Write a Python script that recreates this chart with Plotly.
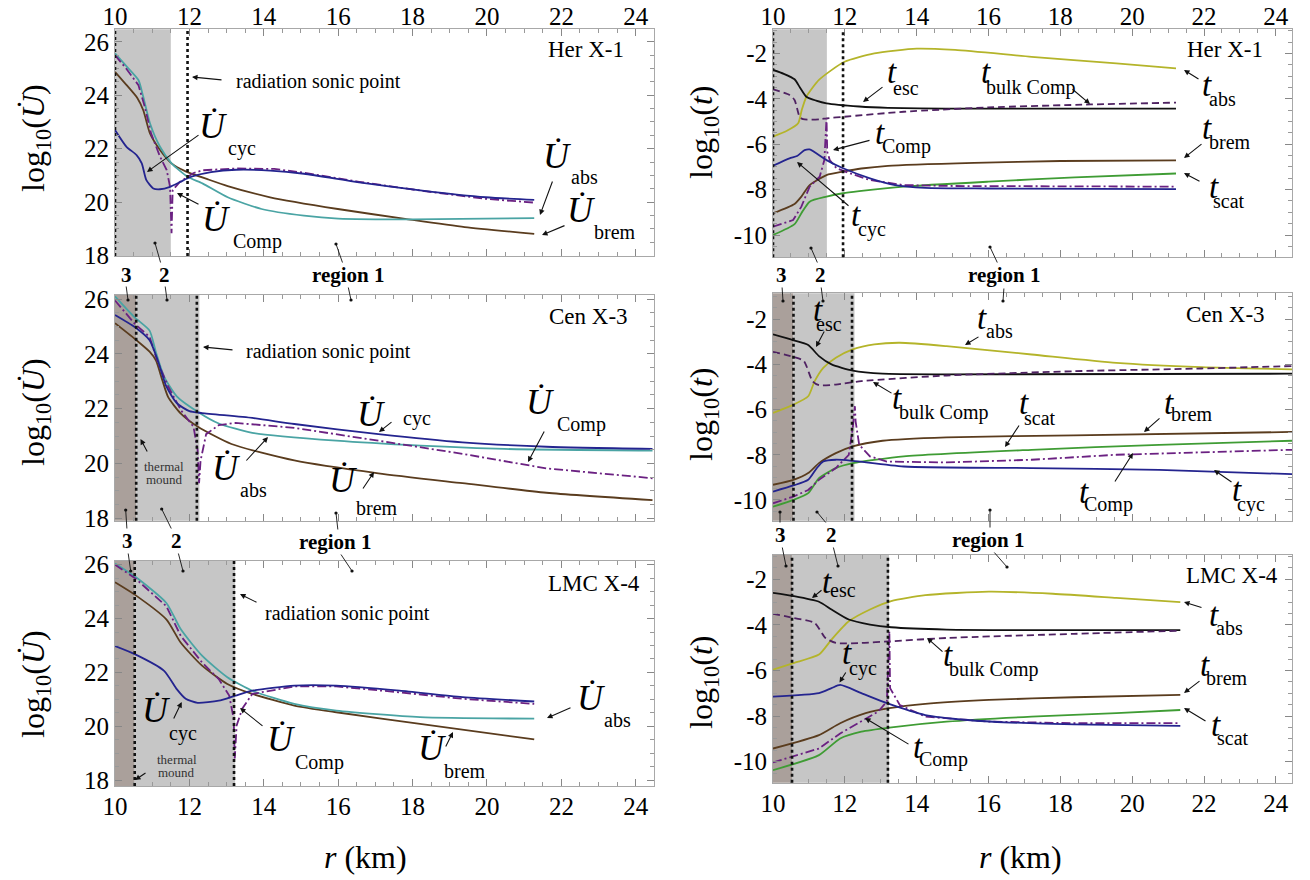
import plotly.graph_objects as go

# ---------------- DATA ----------------
# Her X-1, energy rates log10(U dot) vs r (km)
HER_U_BREM_R = [10, 10.3, 10.6, 10.76, 10.94, 11.21, 11.52, 11.9, 12.5, 13.03, 14.17, 15.99, 17.8, 19.4, 21.27]
HER_U_BREM = [24.88, 24.4, 23.9, 23.44, 22.57, 21.95, 21.45, 21.15, 20.85, 20.6, 20.18, 19.74, 19.37, 19.06, 18.81]
HER_U_ABS_R = [10, 10.3, 10.63, 10.76, 10.94, 11.21, 11.52, 11.95, 12.35, 13.03, 13.94, 15.08, 16, 18, 21.27]
HER_U_ABS = [25.57, 25.1, 24.57, 23.94, 22.95, 22.07, 21.45, 20.95, 20.7, 20.18, 19.74, 19.49, 19.38, 19.35, 19.4]
HER_U_CYC_R = [10, 10.31, 10.58, 10.72, 10.84, 11.03, 11.21, 11.48, 11.75, 12.01, 12.58, 13.26, 14.17, 15.08, 16.56, 18.26, 19.97, 21.27]
HER_U_CYC = [22.7, 22.07, 21.76, 21.45, 20.83, 20.51, 20.48, 20.57, 20.75, 20.93, 21.12, 21.21, 21.18, 21.06, 20.74, 20.43, 20.18, 20.08]
HER_U_COMP_R = [10, 10.3, 10.63, 10.8, 10.97, 11.21, 11.39, 11.48, 11.52, 11.55, 11.75, 12.1, 12.35, 13.26, 14.28, 15.08, 16.56, 18.26, 19.97, 21.27]
HER_U_COMP = [25.5, 25.0, 24.38, 23.57, 22.57, 21.7, 21.2, 20.57, 18.83, 20.45, 20.76, 21.08, 21.19, 21.26, 21.24, 21.1, 20.76, 20.42, 20.12, 19.98]

# Her X-1, timescales log10(t)
HER_T_ABS_R = [10, 10.4, 10.7, 10.8, 10.93, 11.28, 11.99, 12.82, 14.0, 15.07, 17.2, 19.56, 21.22]
HER_T_ABS = [-5.67, -5.4, -5.08, -4.5, -3.91, -3.17, -2.37, -2.0, -1.79, -1.85, -2.15, -2.44, -2.66]
HER_T_ESC_R = [10, 10.3, 10.6, 10.75, 10.93, 11.2, 11.49, 12.4, 13.2, 14.8, 21.22]
HER_T_ESC = [-2.73, -2.9, -3.14, -3.5, -3.91, -4.08, -4.2, -4.34, -4.4, -4.43, -4.43]
HER_T_BULK_R = [10, 10.46, 10.6, 10.74, 10.84, 11.3, 11.49, 11.99, 13.64, 16.0, 18.85, 21.22]
HER_T_BULK = [-3.58, -3.83, -4.05, -4.79, -4.9, -4.9, -4.86, -4.79, -4.57, -4.38, -4.25, -4.17]
HER_T_CYC_R = [10, 10.46, 10.67, 10.88, 11.02, 11.49, 11.95, 12.7, 13.4, 14.24, 16.0, 21.22]
HER_T_CYC = [-6.95, -6.62, -6.52, -6.26, -6.23, -6.7, -7.06, -7.5, -7.8, -7.92, -7.95, -7.98]
HER_T_COMP_R = [10, 10.56, 10.79, 11.02, 11.3, 11.43, 11.49, 11.51, 11.58, 11.77, 12.14, 12.7, 13.64, 15.0, 21.22]
HER_T_COMP = [-9.63, -9.34, -8.75, -7.87, -7.43, -6.7, -4.86, -6.33, -6.7, -7.06, -7.28, -7.58, -7.8, -7.84, -7.87]
HER_T_BREM_R = [10, 10.6, 10.79, 11.02, 11.49, 11.95, 12.46, 13.2, 15.6, 18.0, 21.22]
HER_T_BREM = [-9.04, -8.63, -8.31, -7.8, -7.36, -7.21, -7.07, -6.95, -6.82, -6.74, -6.71]
HER_T_SCAT_R = [10, 10.6, 10.79, 11.02, 11.49, 11.95, 12.4, 13.64, 16.0, 18.4, 21.22]
HER_T_SCAT = [-10.0, -9.52, -9.04, -8.53, -8.31, -8.16, -8.07, -7.87, -7.65, -7.46, -7.29]

# Cen X-3, energy rates
CEN_U_ABS_R = [10, 10.53, 10.93, 11.1, 11.32, 11.66, 12.23, 12.79, 13.69, 15.95, 18.21, 20.47, 24.45]
CEN_U_ABS = [26.1, 25.33, 24.85, 24.06, 23.17, 22.45, 21.88, 21.46, 21.12, 20.83, 20.65, 20.53, 20.47]
CEN_U_CYC_R = [10, 10.53, 10.93, 11.15, 11.38, 11.66, 12.0, 12.34, 13.69, 14.82, 17.08, 19.34, 21.6, 24.45]
CEN_U_CYC = [25.42, 24.98, 24.5, 23.76, 22.81, 22.2, 21.91, 21.84, 21.66, 21.44, 21.07, 20.77, 20.61, 20.53]
CEN_U_BREM_R = [10, 10.53, 10.93, 11.1, 11.27, 11.43, 11.77, 12.23, 13.13, 14.82, 17.08, 19.34, 21.6, 24.45]
CEN_U_BREM = [25.12, 24.55, 24.08, 23.76, 23.05, 22.42, 21.82, 21.34, 20.71, 20.11, 19.64, 19.28, 18.93, 18.66]
CEN_U_COMP_R = [10, 10.53, 10.93, 11.15, 11.43, 11.77, 12.11, 12.22, 12.26, 12.3, 12.45, 12.79, 13.24, 14.82, 17.08, 19.34, 21.6, 24.45]
CEN_U_COMP = [25.95, 25.1, 24.62, 23.7, 22.81, 21.95, 21.34, 20.5, 19.28, 20.1, 21.07, 21.4, 21.48, 21.3, 20.83, 20.35, 19.82, 19.46]

# Cen X-3, timescales
CEN_T_ABS_R = [10, 10.57, 10.98, 11.16, 11.4, 11.75, 12.22, 12.82, 13.53, 14.83, 17.2, 19.56, 21.93, 24.45]
CEN_T_ABS = [-6.15, -5.78, -5.41, -4.74, -4.15, -3.7, -3.33, -3.11, -3.04, -3.19, -3.56, -3.93, -4.12, -4.22]
CEN_T_ESC_R = [10, 10.57, 10.98, 11.28, 11.63, 12.22, 13.05, 14.83, 24.45]
CEN_T_ESC = [-2.67, -2.93, -3.14, -3.63, -4.0, -4.27, -4.41, -4.44, -4.41]
CEN_T_BULK_R = [10, 10.57, 10.86, 11.1, 11.28, 11.75, 12.46, 14.83, 18.38, 21.93, 24.45]
CEN_T_BULK = [-3.44, -3.67, -3.85, -4.74, -4.92, -4.89, -4.74, -4.49, -4.3, -4.18, -4.07]
CEN_T_BREM_R = [10, 10.57, 10.98, 11.28, 11.75, 12.22, 13.05, 14.83, 18.38, 24.45]
CEN_T_BREM = [-9.33, -9.11, -8.81, -8.37, -7.93, -7.63, -7.38, -7.23, -7.14, -6.99]
CEN_T_CYC_R = [10, 10.57, 10.98, 11.22, 11.4, 11.75, 12.22, 13.64, 17.2, 20.75, 24.45]
CEN_T_CYC = [-9.63, -9.36, -9.11, -8.59, -8.3, -8.22, -8.27, -8.52, -8.59, -8.67, -8.86]
CEN_T_SCAT_R = [10, 10.57, 10.98, 11.28, 11.75, 12.22, 13.64, 17.2, 20.75, 24.45]
CEN_T_SCAT = [-10.3, -10.0, -9.7, -9.04, -8.59, -8.37, -8.07, -7.78, -7.56, -7.38]
CEN_T_COMP_R = [10, 10.57, 10.98, 11.28, 11.75, 12.11, 12.22, 12.28, 12.3, 12.4, 12.7, 13.17, 14.83, 17.2, 19.56, 21.93, 24.45]
CEN_T_COMP = [-10.15, -9.85, -9.56, -9.11, -8.59, -8.0, -6.81, -5.85, -6.52, -7.56, -8.07, -8.3, -8.34, -8.22, -8.0, -7.88, -7.78]

# LMC X-4, energy rates
LMC_U_ABS_R = [10, 10.53, 11.38, 11.77, 12.34, 13.02, 13.69, 14.82, 15.95, 18.2, 21.27]
LMC_U_ABS = [26.05, 25.57, 24.58, 23.6, 22.62, 21.82, 21.32, 20.83, 20.58, 20.34, 20.28]
LMC_U_BREM_R = [10, 10.53, 11.38, 11.77, 12.34, 13.02, 13.69, 14.82, 15.95, 18.2, 21.27]
LMC_U_BREM = [25.35, 24.89, 23.97, 23.1, 22.25, 21.57, 21.2, 20.77, 20.52, 20.09, 19.51]
LMC_U_CYC_R = [10, 10.53, 11.32, 11.66, 11.9, 12.22, 12.79, 13.24, 13.69, 14.82, 15.95, 17.65, 19.34, 21.27]
LMC_U_CYC = [22.98, 22.68, 22.06, 21.38, 21.02, 20.87, 20.95, 21.14, 21.32, 21.51, 21.51, 21.32, 21.08, 20.92]
LMC_U_COMP_R = [10, 10.53, 11.38, 11.77, 12.34, 12.79, 13.07, 13.19, 13.22, 13.27, 13.42, 13.69, 14.82, 15.95, 17.65, 19.34, 21.27]
LMC_U_COMP = [26.0, 25.51, 24.46, 23.35, 22.37, 21.75, 21.14, 20.28, 18.8, 20.03, 20.65, 21.2, 21.48, 21.48, 21.26, 21.02, 20.83]

# LMC X-4, timescales
LMC_T_ABS_R = [10, 10.57, 11.28, 11.63, 12.11, 12.7, 13.29, 14.24, 16.01, 17.79, 19.56, 21.34]
LMC_T_ABS = [-5.96, -5.67, -5.3, -4.64, -3.84, -3.32, -2.95, -2.69, -2.54, -2.63, -2.81, -3.0]
LMC_T_ESC_R = [10, 10.57, 11.28, 11.63, 12.11, 12.7, 13.29, 14.83, 21.34]
LMC_T_ESC = [-2.59, -2.73, -2.98, -3.32, -3.76, -3.98, -4.1, -4.2, -4.23]
LMC_T_BULK_R = [10, 10.57, 11.16, 11.46, 11.75, 12.46, 13.24, 14.83, 18.38, 21.34]
LMC_T_BULK = [-3.51, -3.69, -3.91, -4.57, -4.79, -4.79, -4.72, -4.57, -4.39, -4.25]
LMC_T_CYC_R = [10, 11.28, 11.63, 11.87, 12.46, 13.17, 14.24, 15.42, 16.6, 18.38, 21.34]
LMC_T_CYC = [-7.14, -6.99, -6.77, -6.63, -6.99, -7.43, -7.95, -8.17, -8.28, -8.36, -8.43]
LMC_T_BREM_R = [10, 11.28, 11.87, 12.58, 13.24, 14.24, 16.01, 18.38, 21.34]
LMC_T_BREM = [-9.42, -8.83, -8.31, -7.87, -7.65, -7.46, -7.29, -7.17, -7.07]
LMC_T_SCAT_R = [10, 11.28, 11.87, 12.46, 13.24, 14.83, 17.2, 19.56, 21.34]
LMC_T_SCAT = [-10.37, -9.71, -8.98, -8.68, -8.5, -8.24, -8.02, -7.87, -7.73]
LMC_T_COMP_R = [10, 11.28, 11.87, 12.46, 12.93, 13.17, 13.24, 13.26, 13.53, 14.24, 16.01, 18.38, 21.34]
LMC_T_COMP = [-10.03, -9.42, -8.76, -8.24, -7.8, -7.36, -4.28, -6.77, -7.51, -8.02, -8.24, -8.31, -8.31]

# region boundaries (km)
HER_REGIONS = dict(dark=None, gray=(10.0, 11.5), lines=[10.0, 11.95])
CEN_REGIONS = dict(dark=(10.0, 10.57), gray=(10.57, 12.27), lines=[10.57, 12.2])
LMC_REGIONS = dict(dark=(10.0, 10.53), gray=(10.53, 13.23), lines=[10.53, 13.2])

Y_TICKS_U = [18, 20, 22, 24, 26]
Y_LABELS_U = ['18', '20', '22', '24', '26']
Y_TICKS_T = [-10, -8, -6, -4, -2]
Y_LABELS_T = ['-10', '-8', '-6', '-4', '-2']
X_TICKS = [10, 12, 14, 16, 18, 20, 22, 24]

# ---------------- STYLE ----------------
W, H = 1310, 880
SERIF = "Liberation Serif, DejaVu Serif, serif"
NAVY = '#24248f'
TEAL = '#4aa4a4'
BROWN = '#5a3c1e'
PURPLE = '#6b2182'
OLIVE = '#b4b42a'
GREEN = '#3f9c34'
BLACK = '#111111'
BULK = '#4f2262'
GRAY = '#c6c6c6'
DARK = '#aaa09b'
FRAME = '#a8a8a8'

# panel geometry in figure pixels: (x0, x1, ytop, ybottom)
GEOM = {
    1: (115, 654, 29.3, 256.0),
    2: (773, 1292, 29.3, 257.3),
    3: (115, 654, 295.0, 520.7),
    4: (773, 1292, 293.3, 520.7),
    5: (115, 654, 560.7, 786.0),
    6: (773, 1292, 555.0, 782.7),
}
YRANGE = {1: [17.98, 26.47], 2: [-10.98, -0.94], 3: [17.91, 26.15],
          4: [-10.92, -0.85], 5: [17.78, 26.15], 6: [-10.92, -0.93]}
XRANGE_L = [10, 24.49]
XRANGE_R = [10, 24.45]

fig = go.Figure()


def ax_names(p):
    s = '' if p == 1 else str(p)
    return 'x' + s, 'y' + s


def line(p, r, v, color, dash='solid', width=1.8, shape='spline'):
    xa, ya = ax_names(p)
    fig.add_trace(go.Scatter(x=r, y=v, mode='lines', xaxis=xa, yaxis=ya,
                             line=dict(color=color, width=width, dash=dash, shape=shape, smoothing=0.6),
                             showlegend=False, hoverinfo='skip'))


DASHDOT = '9px,3px,2px,3px'
DASHED = '7px,4px'

# Her X-1
line(1, HER_U_BREM_R, HER_U_BREM, BROWN)
line(1, HER_U_ABS_R, HER_U_ABS, TEAL)
line(1, HER_U_COMP_R, HER_U_COMP, PURPLE, DASHDOT, 1.8, 'linear')
line(1, HER_U_CYC_R, HER_U_CYC, NAVY)
line(2, HER_T_ABS_R, HER_T_ABS, OLIVE)
line(2, HER_T_ESC_R, HER_T_ESC, BLACK)
line(2, HER_T_BULK_R, HER_T_BULK, BULK, DASHED)
line(2, HER_T_BREM_R, HER_T_BREM, BROWN)
line(2, HER_T_SCAT_R, HER_T_SCAT, GREEN)
line(2, HER_T_COMP_R, HER_T_COMP, PURPLE, DASHDOT, 1.8, 'linear')
line(2, HER_T_CYC_R, HER_T_CYC, NAVY)
# Cen X-3
line(3, CEN_U_BREM_R, CEN_U_BREM, BROWN)
line(3, CEN_U_ABS_R, CEN_U_ABS, TEAL)
line(3, CEN_U_COMP_R, CEN_U_COMP, PURPLE, DASHDOT, 1.8, 'linear')
line(3, CEN_U_CYC_R, CEN_U_CYC, NAVY)
line(4, CEN_T_ABS_R, CEN_T_ABS, OLIVE)
line(4, CEN_T_ESC_R, CEN_T_ESC, BLACK)
line(4, CEN_T_BULK_R, CEN_T_BULK, BULK, DASHED)
line(4, CEN_T_BREM_R, CEN_T_BREM, BROWN)
line(4, CEN_T_SCAT_R, CEN_T_SCAT, GREEN)
line(4, CEN_T_COMP_R, CEN_T_COMP, PURPLE, DASHDOT, 1.8, 'linear')
line(4, CEN_T_CYC_R, CEN_T_CYC, NAVY)
# LMC X-4
line(5, LMC_U_BREM_R, LMC_U_BREM, BROWN)
line(5, LMC_U_ABS_R, LMC_U_ABS, TEAL)
line(5, LMC_U_COMP_R, LMC_U_COMP, PURPLE, DASHDOT, 1.8, 'linear')
line(5, LMC_U_CYC_R, LMC_U_CYC, NAVY)
line(6, LMC_T_ABS_R, LMC_T_ABS, OLIVE)
line(6, LMC_T_ESC_R, LMC_T_ESC, BLACK)
line(6, LMC_T_BULK_R, LMC_T_BULK, BULK, DASHED)
line(6, LMC_T_BREM_R, LMC_T_BREM, BROWN)
line(6, LMC_T_SCAT_R, LMC_T_SCAT, GREEN)
line(6, LMC_T_COMP_R, LMC_T_COMP, PURPLE, DASHDOT, 1.8, 'linear')
line(6, LMC_T_CYC_R, LMC_T_CYC, NAVY)

# ---------------- AXES ----------------
layout_axes = {}
for p, (x0, x1, yt, yb) in GEOM.items():
    xa, ya = ax_names(p)
    xkey = 'xaxis' + ('' if p == 1 else str(p))
    ykey = 'yaxis' + ('' if p == 1 else str(p))
    row = (p - 1) // 2
    left = (p % 2 == 1)
    side = 'top' if row == 0 else 'bottom'
    showx = row != 1
    layout_axes[xkey] = dict(
        domain=[x0 / W, x1 / W], range=XRANGE_L if left else XRANGE_R, anchor=ya,
        side=side, showticklabels=showx, tickvals=X_TICKS, ticks='inside', ticklen=7,
        tickcolor='#888', mirror='ticks', showline=True, linecolor=FRAME, linewidth=1,
        showgrid=False, zeroline=False, automargin=False,
        ticklabelstandoff=-7 if row == 0 else -2,
        minor=dict(dtick=0.5, tick0=10, ticks='inside', ticklen=4, tickcolor='#999'),
        tickfont=dict(family=SERIF, size=25, color='black'))
    layout_axes[ykey] = dict(
        domain=[1 - yb / H, 1 - yt / H], range=YRANGE[p], anchor=xa,
        tickvals=Y_TICKS_U if left else Y_TICKS_T,
        ticktext=Y_LABELS_U if left else Y_LABELS_T, ticks='inside', ticklen=7,
        tickcolor='#888', mirror='ticks', showline=True, linecolor=FRAME, linewidth=1,
        showgrid=False, zeroline=False, automargin=False,
        minor=dict(dtick=0.5, ticks='inside', ticklen=4, tickcolor='#999'),
        tickfont=dict(family=SERIF, size=25, color='black'))

# ---------------- SHAPES ----------------
shapes = []
for p, reg in [(1, HER_REGIONS), (2, HER_REGIONS), (3, CEN_REGIONS), (4, CEN_REGIONS),
               (5, LMC_REGIONS), (6, LMC_REGIONS)]:
    xa, ya = ax_names(p)
    if reg['dark']:
        shapes.append(dict(type='rect', xref=xa, yref=ya + ' domain', x0=reg['dark'][0], x1=reg['dark'][1],
                           y0=0, y1=1, fillcolor=DARK, line=dict(width=0), layer='below'))
    shapes.append(dict(type='rect', xref=xa, yref=ya + ' domain', x0=reg['gray'][0], x1=reg['gray'][1],
                       y0=0, y1=1, fillcolor=GRAY, line=dict(width=0), layer='below'))
    for lx in reg['lines']:
        shapes.append(dict(type='line', xref=xa, yref=ya + ' domain', x0=lx, x1=lx, y0=0, y1=1,
                           line=dict(color='#111', width=2.6, dash='3px,3px'), layer='above'))

# ---------------- ANNOTATIONS ----------------
ann = []


def P(px, py):
    return px / W, 1 - py / H


def text(px, py, t, size, color='black', angle=0):
    x, y = P(px, py)
    ann.append(dict(x=x, y=y, xref='paper', yref='paper', text=t, showarrow=False,
                    textangle=angle, xanchor='center', yanchor='middle',
                    font=dict(family=SERIF, size=size, color=color)))


def arrow(tx, ty, hx, hy, head=2, size=1.0, width=1.1):
    x, y = P(hx, hy)
    ann.append(dict(x=x, y=y, xref='paper', yref='paper', text='', showarrow=True,
                    ax=tx - hx, ay=ty - hy, axref='pixel', ayref='pixel',
                    arrowhead=head, arrowsize=size, arrowwidth=width, arrowcolor='#111'))


UDOT = '<i>U\u0307</i>'


def ulabel(ux, uy, sub, sx, sy):
    text(ux, uy, UDOT, 36)
    text(sx, sy, sub, 20)


def tlabel(ux, uy, sub, sx, sy):
    text(ux, uy, '<i>t</i>', 33)
    text(sx, sy, sub, 20)


# Her X-1 left
text(586, 50, 'Her X-1', 23)
text(318, 81, 'radiation sonic point', 20)
arrow(223, 80, 192, 77)
ulabel(213, 126, 'cyc', 242, 148)
arrow(200, 134, 147, 172)
ulabel(216, 219, 'Comp', 257, 241)
arrow(200, 205, 177, 193)
ulabel(557, 156, 'abs', 584, 177)
arrow(553, 180, 540, 215)
ulabel(581, 210, 'brem', 615, 232)
arrow(566, 225, 542, 235)

# Cen X-3 left
text(588, 316, 'Cen X-3', 23)
text(328, 351, 'radiation sonic point', 20)
arrow(234, 350, 203, 347)
text(164, 466, 'thermal', 13, '#333')
text(164, 480, 'mound', 13, '#333')
arrow(148, 453, 140.5, 439)
ulabel(371, 414, 'cyc', 417, 418)
arrow(393, 421, 379, 432)
ulabel(540, 402, 'Comp', 581, 424)
arrow(545, 430, 528, 462)
ulabel(226, 468, 'abs', 253, 490)
arrow(245, 462, 268, 437)
ulabel(343, 480, 'brem', 377, 508)
arrow(362, 490, 374, 472)

# LMC X-4 left
text(594, 583, 'LMC X-4', 23)
text(347, 613, 'radiation sonic point', 20)
arrow(258, 603, 240, 594)
text(177, 759, 'thermal', 13, '#333')
text(177, 772, 'mound', 13, '#333')
arrow(147, 772, 135, 780)
ulabel(156, 710, 'cyc', 183, 733)
arrow(173, 720, 181.7, 702)
ulabel(281, 739, 'Comp', 319, 762)
arrow(264, 727, 240, 708)
ulabel(591, 698, 'abs', 617, 720)
arrow(572, 707, 547, 718)
ulabel(432, 748, 'brem', 465, 771)
arrow(445, 748, 453, 732)

# Her X-1 right
text(1225, 50, 'Her X-1', 23)
tlabel(892, 72, 'esc', 906, 88)
arrow(884, 86, 863, 102)
tlabel(986, 72, 'bulk Comp', 1030, 87)
arrow(1071, 88, 1090, 104)
tlabel(1207, 85, 'abs', 1222, 99)
arrow(1200, 80, 1184, 70)
tlabel(880, 133, 'Comp', 906, 147)
arrow(871, 140, 833, 150)
tlabel(856, 215, 'cyc', 872, 229)
arrow(850, 207, 797, 162)
tlabel(1207, 128, 'brem', 1230, 142)
arrow(1203, 143, 1184, 158)
tlabel(1214, 187, 'scat', 1229, 201)
arrow(1201, 182, 1184, 173)

# Cen X-3 right
text(1225, 315, 'Cen X-3', 23)
tlabel(818, 310, 'esc', 829, 324)
arrow(825, 330, 816, 347)
tlabel(982, 318, 'abs', 999, 331)
arrow(980, 336, 965, 345)
tlabel(897, 398, 'bulk Comp', 943, 413)
arrow(893, 394, 873, 382)
tlabel(1024, 403, 'scat', 1040, 418)
arrow(1020, 424, 1005, 447)
tlabel(1169, 403, 'brem', 1192, 414)
arrow(1161, 417, 1144, 432)
tlabel(1084, 492, 'Comp', 1108, 504)
arrow(1114, 483, 1133, 453)
tlabel(1237, 490, 'cyc', 1251, 504)
arrow(1233, 483, 1214, 470)

# LMC X-4 right
text(1232, 575, 'LMC X-4', 23)
tlabel(827, 582, 'esc', 843, 590)
arrow(823, 589, 812, 598)
tlabel(847, 653, 'cyc', 863, 668)
arrow(846.7, 671, 839.5, 682.5)
tlabel(948, 655, 'bulk Comp', 993, 669)
arrow(944, 653, 927, 638)
tlabel(918, 747, 'Comp', 943, 759)
arrow(910, 745, 865, 718)
tlabel(1214, 615, 'abs', 1229, 628)
arrow(1203, 608, 1184, 602)
tlabel(1205, 665, 'brem', 1227, 678)
arrow(1201, 680, 1184, 693)
tlabel(1216, 725, 'scat', 1233, 738)
arrow(1207, 722, 1184, 708)

# region labels between panels
for (lx, ly, t, ups, downs) in [
    (126, 275, '3', [], [(126, 285, 128, 300)]),
    (164, 275, '2', [(161, 264, 155, 243)], [(165, 285, 167, 300)]),
    (348, 275, 'region 1', [(343, 264, 336, 244)], [(348, 286, 351, 300)]),
    (127, 541, '3', [(127, 530, 125.7, 510)], [(128, 552, 130.7, 571)]),
    (176, 541, '2', [(172, 530, 161.7, 509)], [(178, 552, 183, 571)]),
    (335, 542, 'region 1', [(338, 531, 336, 513)], [(340, 553, 352, 571)]),
    (782, 275, '3', [], [(782, 286, 783, 301)]),
    (820, 275, '2', [(818, 264, 811, 248)], [(821, 286, 823, 301)]),
    (1004, 275, 'region 1', [(998, 264, 990, 247)], [(1004, 287, 1003, 301)]),
    (780, 535, '3', [(780, 524, 780, 512)], [(782, 546, 786, 566)]),
    (831, 535, '2', [(827, 524, 817, 512)], [(833, 546, 838, 566)]),
    (988, 540, 'region 1', [(990, 529, 990, 510)], [(993, 551, 1007, 567)]),
]:
    text(lx, ly, '<b>' + t + '</b>', 21)
    for (tx, ty, hx, hy) in ups + downs:
        arrow(tx, ty, hx, hy, head=6, size=0.9, width=0.9)

# axis titles
for yc in [138, 412, 684]:
    text(35, yc, 'log<sub>10</sub>(' + UDOT + ')', 32, angle=-90)
for yc in [133, 415, 683]:
    text(703, yc, 'log<sub>10</sub>(<i>t</i>)', 32, angle=-90)
text(365, 857, '<i>r</i> (km)', 32)
text(1020, 857, '<i>r</i> (km)', 32)

fig.update_layout(width=W, height=H, margin=dict(l=0, r=0, t=0, b=0),
                  plot_bgcolor='white', paper_bgcolor='white', shapes=shapes,
                  annotations=ann, showlegend=False, **layout_axes)

fig.write_html('out.html',
               post_script="document.body.style.margin='0';document.body.style.padding='0';")
